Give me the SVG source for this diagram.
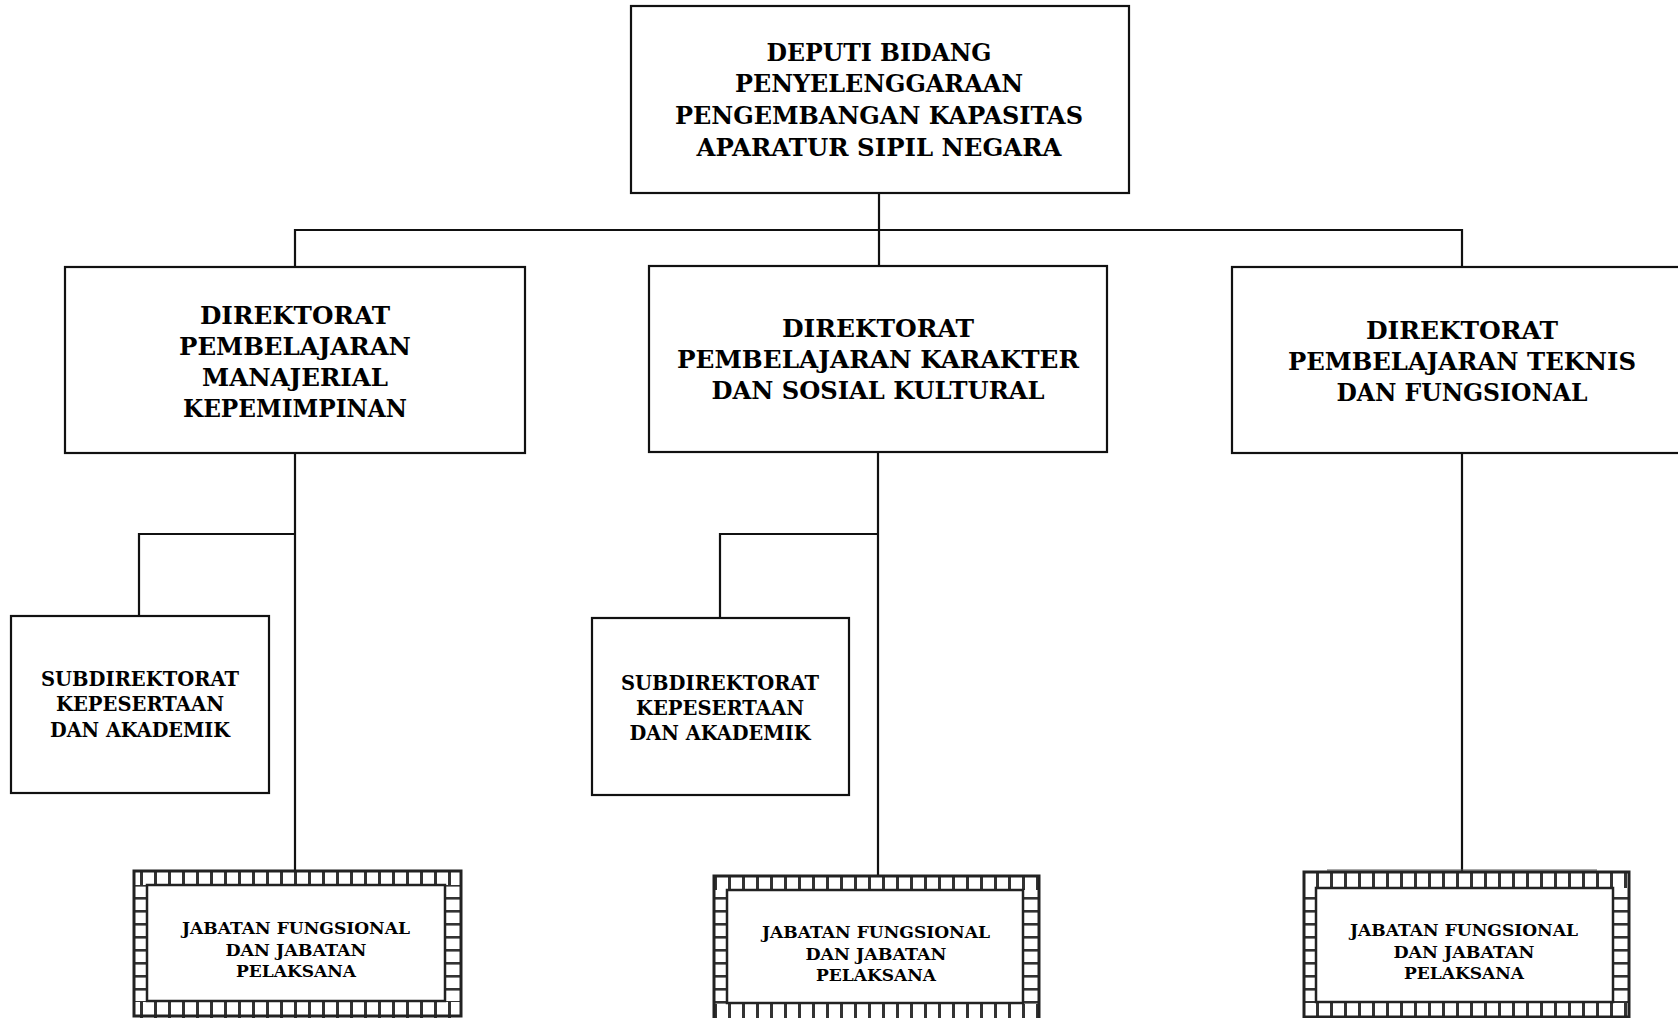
<svg xmlns="http://www.w3.org/2000/svg" width="1678" height="1018" viewBox="0 0 1678 1018">
  <style>
    .box { fill: #fff; stroke: #111; stroke-width: 2.2; }
    .con { fill: none; stroke: #111; stroke-width: 2.2; }
    .t { font-family: "DejaVu Serif", "Liberation Serif", serif; font-weight: bold; fill: #000; text-anchor: middle; }
    .t1 { font-size: 24px; }
    .t2 { font-size: 24.5px; }
    .t3 { font-size: 19.5px; }
    .t4 { font-size: 17px; }
    .outer { fill: none; stroke: #222; stroke-width: 3; }
    .inner { fill: #fff; stroke: #222; stroke-width: 2.5; }
  </style>
  <defs>
    <pattern id="vt" patternUnits="userSpaceOnUse" width="14" height="20">
      <rect x="0" y="0" width="3" height="20" fill="#333"/>
    </pattern>
    <pattern id="ht" patternUnits="userSpaceOnUse" width="20" height="13">
      <rect x="0" y="0" width="20" height="2.6" fill="#333"/>
    </pattern>
  </defs>
  <rect width="1678" height="1018" fill="#fff"/>

  <g id="connectors">
    <path class="con" d="M879 193 V266"/>
    <path class="con" d="M295 267 V230 H1462 V267"/>
    <path class="con" d="M295 453 V870"/>
    <path class="con" d="M295 534 H139 V616"/>
    <path class="con" d="M878 452 V875"/>
    <path class="con" d="M878 534 H720 V618"/>
    <path class="con" d="M1462 453 V871"/>
    <path d="M1327 870 H1597" stroke="#555" stroke-width="1" fill="none"/>
  </g>

  <g id="deputi">
    <rect class="box" x="631" y="6" width="498" height="187"/>
    <text class="t t1" x="879" y="61" textLength="225" lengthAdjust="spacingAndGlyphs">DEPUTI BIDANG</text>
    <text class="t t1" x="879" y="92" textLength="288" lengthAdjust="spacingAndGlyphs">PENYELENGGARAAN</text>
    <text class="t t1" x="879" y="124" textLength="408" lengthAdjust="spacingAndGlyphs">PENGEMBANGAN KAPASITAS</text>
    <text class="t t1" x="879" y="156" textLength="365" lengthAdjust="spacingAndGlyphs">APARATUR SIPIL NEGARA</text>
  </g>

  <g id="dir-manajerial">
    <rect class="box" x="65" y="267" width="460" height="186"/>
    <text class="t t2" x="295" y="324" textLength="190" lengthAdjust="spacingAndGlyphs">DIREKTORAT</text>
    <text class="t t2" x="295" y="355" textLength="232" lengthAdjust="spacingAndGlyphs">PEMBELAJARAN</text>
    <text class="t t2" x="295" y="386" textLength="186" lengthAdjust="spacingAndGlyphs">MANAJERIAL</text>
    <text class="t t2" x="295" y="417" textLength="224" lengthAdjust="spacingAndGlyphs">KEPEMIMPINAN</text>
  </g>

  <g id="dir-karakter">
    <rect class="box" x="649" y="266" width="458" height="186"/>
    <text class="t t2" x="878" y="337" textLength="192" lengthAdjust="spacingAndGlyphs">DIREKTORAT</text>
    <text class="t t2" x="878" y="368" textLength="402" lengthAdjust="spacingAndGlyphs">PEMBELAJARAN KARAKTER</text>
    <text class="t t2" x="878" y="399" textLength="333" lengthAdjust="spacingAndGlyphs">DAN SOSIAL KULTURAL</text>
  </g>

  <g id="dir-teknis">
    <rect class="box" x="1232" y="267" width="470" height="186"/>
    <text class="t t2" x="1462" y="339" textLength="192" lengthAdjust="spacingAndGlyphs">DIREKTORAT</text>
    <text class="t t2" x="1462" y="370" textLength="348" lengthAdjust="spacingAndGlyphs">PEMBELAJARAN TEKNIS</text>
    <text class="t t2" x="1462" y="401" textLength="251" lengthAdjust="spacingAndGlyphs">DAN FUNGSIONAL</text>
  </g>

  <g id="subdir-1">
    <rect class="box" x="11" y="616" width="258" height="177"/>
    <text class="t t3" x="140" y="686" textLength="198" lengthAdjust="spacingAndGlyphs">SUBDIREKTORAT</text>
    <text class="t t3" x="140" y="711" textLength="168" lengthAdjust="spacingAndGlyphs">KEPESERTAAN</text>
    <text class="t t3" x="140" y="737" textLength="180" lengthAdjust="spacingAndGlyphs">DAN AKADEMIK</text>
  </g>

  <g id="subdir-2">
    <rect class="box" x="592" y="618" width="257" height="177"/>
    <text class="t t3" x="720" y="690" textLength="198" lengthAdjust="spacingAndGlyphs">SUBDIREKTORAT</text>
    <text class="t t3" x="720" y="715" textLength="168" lengthAdjust="spacingAndGlyphs">KEPESERTAAN</text>
    <text class="t t3" x="720" y="740" textLength="181" lengthAdjust="spacingAndGlyphs">DAN AKADEMIK</text>
  </g>

  <g id="jf-1">
    <rect x="133" y="870" width="329" height="15" fill="url(#vt)"/>
    <rect x="133" y="1002" width="329" height="16" fill="url(#vt)"/>
    <rect x="133" y="885" width="14" height="117" fill="url(#ht)"/>
    <rect x="446" y="885" width="16" height="117" fill="url(#ht)"/>
    <rect class="outer" x="134" y="871" width="327" height="145"/>
    <rect class="inner" x="147" y="885" width="298" height="116"/>
    <text class="t t4" x="296" y="934" textLength="228" lengthAdjust="spacingAndGlyphs">JABATAN FUNGSIONAL</text>
    <text class="t t4" x="296" y="956" textLength="141" lengthAdjust="spacingAndGlyphs">DAN JABATAN</text>
    <text class="t t4" x="296" y="977" textLength="120" lengthAdjust="spacingAndGlyphs">PELAKSANA</text>
  </g>

  <g id="jf-2">
    <rect x="713" y="875" width="327" height="15" fill="url(#vt)"/>
    <rect x="713" y="1004" width="327" height="14" fill="url(#vt)"/>
    <rect x="713" y="890" width="14" height="114" fill="url(#ht)"/>
    <rect x="1024" y="890" width="16" height="114" fill="url(#ht)"/>
    <rect class="outer" x="714" y="876" width="325" height="145"/>
    <rect class="inner" x="727" y="890" width="296" height="113"/>
    <text class="t t4" x="876" y="938" textLength="228" lengthAdjust="spacingAndGlyphs">JABATAN FUNGSIONAL</text>
    <text class="t t4" x="876" y="960" textLength="141" lengthAdjust="spacingAndGlyphs">DAN JABATAN</text>
    <text class="t t4" x="876" y="981" textLength="120" lengthAdjust="spacingAndGlyphs">PELAKSANA</text>
  </g>

  <g id="jf-3">
    <rect x="1303" y="871" width="327" height="17" fill="url(#vt)"/>
    <rect x="1303" y="1003" width="327" height="15" fill="url(#vt)"/>
    <rect x="1303" y="888" width="13" height="115" fill="url(#ht)"/>
    <rect x="1614" y="888" width="16" height="115" fill="url(#ht)"/>
    <rect class="outer" x="1304" y="872" width="325" height="145"/>
    <rect class="inner" x="1316" y="888" width="297" height="114"/>
    <text class="t t4" x="1464" y="936" textLength="228" lengthAdjust="spacingAndGlyphs">JABATAN FUNGSIONAL</text>
    <text class="t t4" x="1464" y="958" textLength="141" lengthAdjust="spacingAndGlyphs">DAN JABATAN</text>
    <text class="t t4" x="1464" y="979" textLength="120" lengthAdjust="spacingAndGlyphs">PELAKSANA</text>
  </g>
</svg>
